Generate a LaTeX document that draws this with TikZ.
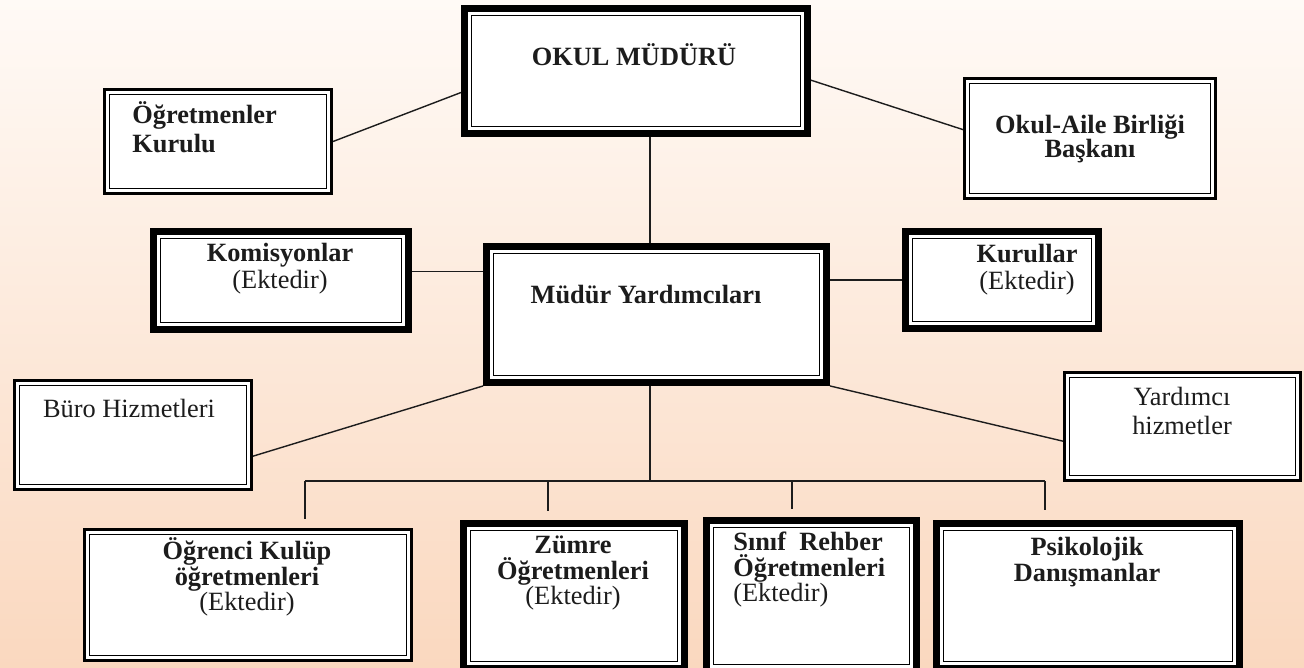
\documentclass[tikz,border=0pt]{standalone}
\usepackage{fontspec}
\setmainfont{Liberation Serif}
\usepackage{tikz}
\definecolor{bgtop}{HTML}{FFFAF6}
\definecolor{bgmid}{HTML}{FCEADC}
\definecolor{bgbot}{HTML}{FAD8BF}
\definecolor{ink}{HTML}{1C1C1C}
\newcommand{\boxfont}{\fontsize{15}{15.5}\selectfont\bfseries\lineskiplimit=-20pt\relax}
\newcommand{\lowfont}{\fontsize{15}{14.5}\selectfont\bfseries\lineskiplimit=-20pt\relax}
\newcommand{\ailefont}{\fontsize{15}{14}\selectfont\bfseries\lineskiplimit=-20pt\relax}
\newcommand{\kulupfont}{\fontsize{15}{14.5}\selectfont\bfseries\lineskiplimit=-20pt\relax}
\newcommand{\kurulfont}{\fontsize{15}{16.5}\selectfont\bfseries}
\newcommand{\plainfont}{\fontsize{15}{16}\selectfont}
\tikzstyle{thickbox}=[draw=black, line width=4.2pt, fill=white, inner sep=0pt,
  path picture={\draw[line width=0.6pt] ([shift={(3.6pt,3.6pt)}]path picture bounding box.south west)
    rectangle ([shift={(-3.6pt,-3.6pt)}]path picture bounding box.north east);}]
\tikzstyle{thinbox}=[draw=black, line width=1.5pt, fill=white, inner sep=0pt,
  path picture={\draw[line width=0.6pt] ([shift={(2.8pt,2.8pt)}]path picture bounding box.south west)
    rectangle ([shift={(-2.8pt,-2.8pt)}]path picture bounding box.north east);}]
\tikzstyle{txt}=[inner sep=0pt, text=ink, align=center, font=\boxfont]
\tikzstyle{link}=[draw=ink, line width=0.8pt]

\begin{document}
\begin{tikzpicture}[x=0.02cm, y=-0.02cm]
    \useasboundingbox (0,0) rectangle (1304,668);
    \clip (0,0) rectangle (1304,668);
    \shade[top color=bgtop, middle color=bgmid, bottom color=bgbot] (0,0) rectangle (1304,668);
    \begin{scope}
        \node (okul) at (636,71)[thickbox, minimum width=6.85cm, minimum height=2.49cm] {};
        \node (ogrkurul) at (218,141.5)[thinbox, minimum width=4.55cm, minimum height=2.09cm] {};
        \node (aile) at (1090,138.5)[thinbox, minimum width=5.03cm, minimum height=2.41cm] {};
        \node (komisyon) at (281,280.5)[thickbox, minimum width=5.09cm, minimum height=1.95cm] {};
        \node (mudyrd) at (656.5,314.5)[thickbox, minimum width=6.79cm, minimum height=2.71cm] {};
        \node (kurullar) at (1002,280)[thickbox, minimum width=3.85cm, minimum height=1.93cm] {};
        \node (buro) at (133,435)[thinbox, minimum width=4.75cm, minimum height=2.19cm] {};
        \node (yrdhiz) at (1182.5,426.5)[thinbox, minimum width=4.73cm, minimum height=2.17cm] {};
        \node (kulup) at (248,595)[thinbox, minimum width=6.55cm, minimum height=2.63cm] {};
        \node (zumre) at (574,596)[thickbox, minimum width=4.41cm, minimum height=2.89cm] {};
        \node (sinif) at (811.5,596)[thickbox, minimum width=4.19cm, minimum height=3.01cm] {};
        \node (psiko) at (1088,596)[thickbox, minimum width=6.05cm, minimum height=2.89cm] {};
    \end{scope}
    \begin{scope}
        \node (okult) at (634,55)[txt] {OKUL MÜDÜRÜ};
        \node (ogrkurult) at (132,127)[txt, anchor=west, align=left, font=\kurulfont] {Öğretmenler\\Kurulu};
        \node (ailet) at (1090,139)[txt, font=\ailefont] {Okul-Aile Birliği\\Başkanı};
        \node (komisyont) at (280,269)[txt] {Komisyonlar\\{\mdseries (Ektedir)}};
        \node (mudyrdt) at (646,295)[txt] {Müdür Yardımcıları};
        \node (kurullart) at (1027,270)[txt] {Kurullar\\{\mdseries (Ektedir)}};
        \node (burot) at (129,408)[txt, font=\plainfont] {Büro Hizmetleri};
        \node (yrdhizt) at (1182,411)[txt, font=\plainfont] {Yardımcı\\hizmetler};
        \node (kulupt) at (247,577)[txt, font=\kulupfont] {Öğrenci Kulüp\\öğretmenleri\\{\mdseries (Ektedir)}};
        \node (zumret) at (573,573)[txt, font=\lowfont] {Zümre\\Öğretmenleri\\{\mdseries (Ektedir)}};
        \node (siniFt) at (733,570)[txt, anchor=west, align=left, font=\lowfont] {Sınıf\ \ Rehber\\Öğretmenleri\\{\mdseries (Ektedir)}};
        \node (psikot) at (1087,562)[txt, font=\lowfont] {Psikolojik\\Danışmanlar};
    \end{scope}
    \begin{scope}
        \coordinate (hub) at (650,481);
        \coordinate (b1) at (305,481);
        \coordinate (b2) at (548,481);
        \coordinate (b3) at (792,481);
        \coordinate (b4) at (1045,481);
    \end{scope}
    \begin{scope}
        \path [-, link] (okul.south -| hub) edge (mudyrd.north -| hub);
        \path [-, link] (ogrkurul.east) edge (okul.187);
        \path [-, link] (aile.176) edge (okul.357);
        \path [-, link] (komisyon.4) edge (komisyon.4 -| mudyrd.west);
        \path [-, link] (kurullar.west) edge (kurullar.west -| mudyrd.east);
        \path [-, link] (buro.350) edge (mudyrd.south west);
        \path [-, link] (yrdhiz.187) edge (mudyrd.south east);
        \path [-, link] (mudyrd.south -| hub) edge (hub);
        \path [-, link] (b1) edge (b4);
        \path [-, link, shorten >=0.18cm] (b1) edge (b1 |- kulup.north);
        \path [-, link, shorten >=0.18cm] (b2) edge (b2 |- zumre.north);
        \path [-, link, shorten >=0.16cm] (b3) edge (b3 |- sinif.north);
        \path [-, link, shorten >=0.2cm] (b4) edge (b4 |- psiko.north);
    \end{scope}
\end{tikzpicture}
\end{document}
